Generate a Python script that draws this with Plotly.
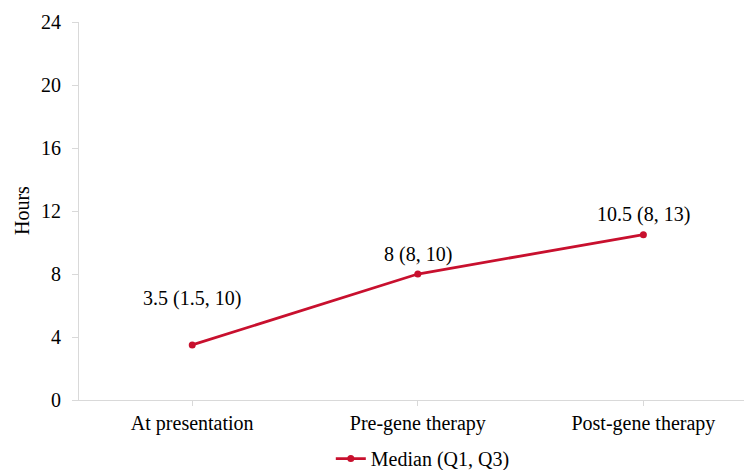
import plotly.graph_objects as go

categories = ["At presentation", "Pre-gene therapy", "Post-gene therapy"]
median_hours = [3.5, 8, 10.5]
point_labels = ["3.5 (1.5, 10)", "8 (8, 10)", "10.5 (8, 13)"]
y_ticks = [0, 4, 8, 12, 16, 20, 24]
series_name = "Median (Q1, Q3)"

RED = "#C8102E"
FONT = "Liberation Serif, Times New Roman, serif"
FS = 20

fig = go.Figure()
fig.add_trace(go.Scatter(
    x=list(range(len(categories))), y=median_hours, mode="lines+markers",
    name=series_name,
    line=dict(color=RED, width=2.8),
    marker=dict(color=RED, size=7),
))

label_shift = [46, 20, 20]
for i, (v, t) in enumerate(zip(median_hours, point_labels)):
    fig.add_annotation(x=i, y=v, text=t, showarrow=False, yshift=label_shift[i],
                       font=dict(family=FONT, size=FS, color="#000"))

fig.add_annotation(xref="paper", yref="paper", x=-79/665, y=0.5, xanchor="center", yanchor="middle",
                   xshift=22, text="Hours", textangle=-90, showarrow=False,
                   font=dict(family=FONT, size=FS, color="#000"))

fig.update_layout(
    width=744, height=470,
    margin=dict(l=79, r=0, t=22, b=70, autoexpand=False),
    paper_bgcolor="white", plot_bgcolor="white",
    font=dict(family=FONT, size=FS, color="#000"),
    showlegend=True,
    legend=dict(orientation="h", x=0.517, xanchor="center", y=-0.155, yanchor="middle",
                font=dict(family=FONT, size=FS, color="#000"), itemwidth=30),
    xaxis=dict(
        tickmode="array", tickvals=list(range(len(categories))), ticktext=categories,
        range=[-0.502, 2.446], showgrid=False, zeroline=False, automargin=False,
        showline=True, linecolor="#d9d9d9", linewidth=1,
        ticks="outside", ticklen=5, tickcolor="#d9d9d9",
    ),
    yaxis=dict(
        range=[0, 24], tickvals=y_ticks, showgrid=False, zeroline=False, automargin=False,
        showline=True, linecolor="#d9d9d9", linewidth=1,
        ticks="outside", ticklen=6, tickcolor="#d9d9d9", ticklabelstandoff=7,
    ),
)

fig.write_html("out.html", config={"displayModeBar": False},
               post_script="document.body.style.margin='0';")
